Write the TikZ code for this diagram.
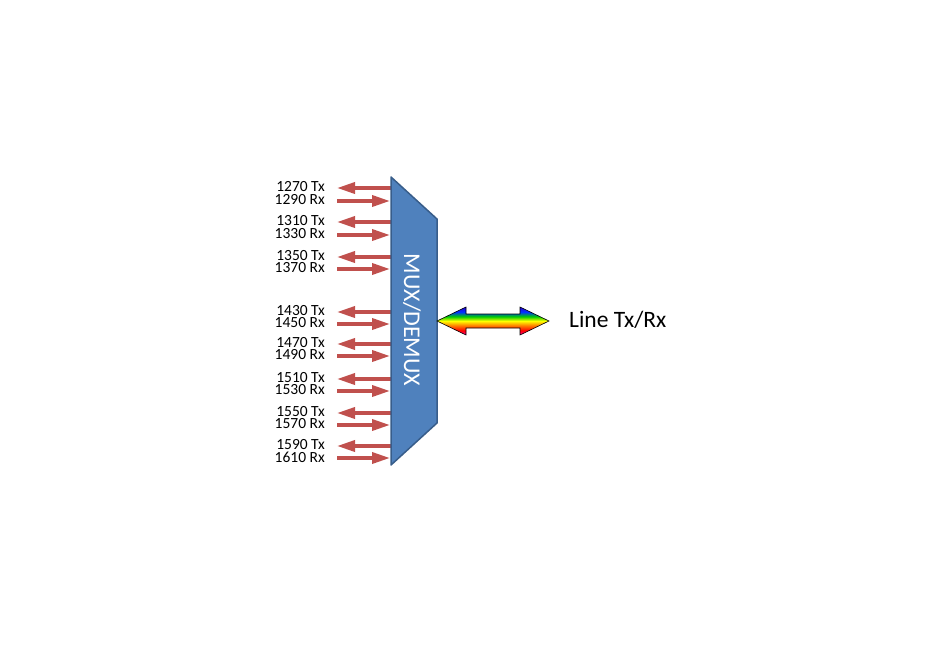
\documentclass[tikz,border=0pt]{standalone}
\usepackage{fontspec}
\setmainfont{Carlito}
\usetikzlibrary{arrows.meta}

\definecolor{muxblue}{HTML}{4F81BD}
\definecolor{muxedge}{HTML}{385D8A}
\definecolor{arrowred}{HTML}{C0504D}

\pgfdeclareverticalshading{rainbow}{100bp}{color(0bp)=(magenta); color(25bp)=(magenta!60!red);
  color(33bp)=(red); color(42bp)=(orange); color(50bp)=(yellow); color(58bp)=(green!80!black);
  color(66bp)=(blue!80!cyan); color(75bp)=(blue!70!violet); color(100bp)=(blue!70!violet)}

\begin{document}
\begin{tikzpicture}[x=1pt, y=-1pt,
  wl/.style = {anchor=east, inner sep=0pt, font=\fontsize{15.5}{15.5}\selectfont},
  tx/.style = {draw=arrowred, line width=3.5pt, -{Triangle[length=18pt, width=11pt]}},
  rx/.style = {draw=arrowred, line width=3.5pt, -{Triangle[length=18pt, width=11pt]}},
  mux/.style = {fill=muxblue, draw=muxedge, line width=1.5pt, line join=round},
  wave/.style = {draw=black, line width=0.6pt, shading=rainbow},
  ]
  \useasboundingbox (0,0) rectangle (943,645);

  % mux edge
  \coordinate (edge) at (391,0);

  \node[wl] (l1270) at (325,187) {1270 Tx};
  \node[wl] (l1290) at (325,200) {1290 Rx};
  \node[wl] (l1310) at (325,221) {1310 Tx};
  \node[wl] (l1330) at (325,234) {1330 Rx};
  \node[wl] (l1350) at (325,256) {1350 Tx};
  \node[wl] (l1370) at (325,268) {1370 Rx};
  \node[wl] (l1430) at (325,311) {1430 Tx};
  \node[wl] (l1450) at (325,323) {1450 Rx};
  \node[wl] (l1470) at (325,343) {1470 Tx};
  \node[wl] (l1490) at (325,355) {1490 Rx};
  \node[wl] (l1510) at (325,378) {1510 Tx};
  \node[wl] (l1530) at (325,390) {1530 Rx};
  \node[wl] (l1550) at (325,412) {1550 Tx};
  \node[wl] (l1570) at (325,424) {1570 Rx};
  \node[wl] (l1590) at (325,445) {1590 Tx};
  \node[wl] (l1610) at (325,457) {1610 Rx};

  \draw[tx] ([yshift=-1pt]l1270 -| edge) -- ([xshift=12pt,yshift=-1pt]l1270.east);
  \draw[rx] ([xshift=12pt,yshift=-1pt]l1290.east) -- ([xshift=-1pt,yshift=-1pt]l1290 -| edge);
  \draw[tx] ([yshift=-1pt]l1310 -| edge) -- ([xshift=12pt,yshift=-1pt]l1310.east);
  \draw[rx] ([xshift=12pt,yshift=-1pt]l1330.east) -- ([xshift=-1pt,yshift=-1pt]l1330 -| edge);
  \draw[tx] ([yshift=-1pt]l1350 -| edge) -- ([xshift=12pt,yshift=-1pt]l1350.east);
  \draw[rx] ([xshift=12pt,yshift=-1pt]l1370.east) -- ([xshift=-1pt,yshift=-1pt]l1370 -| edge);
  \draw[tx] ([yshift=-1pt]l1430 -| edge) -- ([xshift=12pt,yshift=-1pt]l1430.east);
  \draw[rx] ([xshift=12pt,yshift=-1pt]l1450.east) -- ([xshift=-1pt,yshift=-1pt]l1450 -| edge);
  \draw[tx] ([yshift=-1pt]l1470 -| edge) -- ([xshift=12pt,yshift=-1pt]l1470.east);
  \draw[rx] ([xshift=12pt,yshift=-1pt]l1490.east) -- ([xshift=-1pt,yshift=-1pt]l1490 -| edge);
  \draw[tx] ([yshift=-1pt]l1510 -| edge) -- ([xshift=12pt,yshift=-1pt]l1510.east);
  \draw[rx] ([xshift=12pt,yshift=-1pt]l1530.east) -- ([xshift=-1pt,yshift=-1pt]l1530 -| edge);
  \draw[tx] ([yshift=-1pt]l1550 -| edge) -- ([xshift=12pt,yshift=-1pt]l1550.east);
  \draw[rx] ([xshift=12pt,yshift=-1pt]l1570.east) -- ([xshift=-1pt,yshift=-1pt]l1570 -| edge);
  \draw[tx] ([yshift=-1pt]l1590 -| edge) -- ([xshift=12pt,yshift=-1pt]l1590.east);
  \draw[rx] ([xshift=12pt,yshift=-1pt]l1610.east) -- ([xshift=-1pt,yshift=-1pt]l1610 -| edge);

  % mux/demux block
  \draw[mux] (391,177) -- (437,219) -- (437,423) -- (391,465) -- cycle;
  \node[rotate=-90, text=white, font=\fontsize{24}{24}\selectfont] (mux) at (412,320) {MUX/DEMUX};

  % line side
  \shade[wave] (437,321) -- (466,307) -- (466,314) -- (520,314) -- (520,307) -- (549,321)
    -- (520,335) -- (520,328) -- (466,328) -- (466,335) -- cycle;
  \node[anchor=west, inner sep=0pt, font=\fontsize{23.5}{23.5}\selectfont] (line) at (569,320) {Line Tx/Rx};
\end{tikzpicture}
\end{document}
